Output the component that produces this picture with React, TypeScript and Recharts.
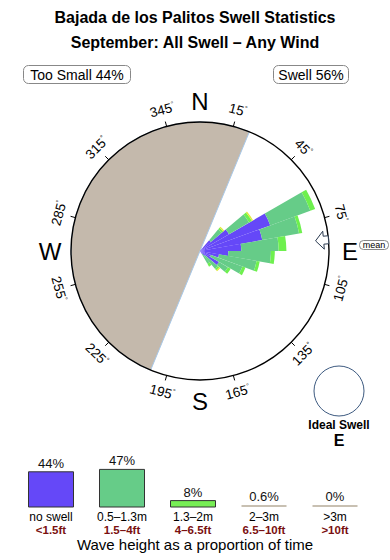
import {
  PieChart, Pie, Cell, RadialBarChart, RadialBar, PolarAngleAxis, PolarRadiusAxis,
  RadarChart, Radar, PolarGrid, BarChart, Bar, XAxis, YAxis, LabelList,
} from 'recharts'

const FONT = '"Liberation Sans", Arial, Helvetica, sans-serif'

// ── Data ──────────────────────────────────────────────────────────────────────

const TITLE = 'Bajada de los Palitos Swell Statistics'
const SUBTITLE = 'September: All Swell – Any Wind'
const TOO_SMALL_PCT = 44
const SWELL_PCT = 56

// 10° direction bins, bin i covers [i*10, i*10+10) degrees from north
const DIR_BINS = [
  0, 10, 20, 30, 40, 50, 60, 70, 80, 90, 100, 110,
  120, 130, 140, 150, 160, 170, 180, 190, 200, 210, 220, 230,
  240, 250, 260, 270, 280, 290, 300, 310, 320, 330, 340, 350,
]
const NO_SWELL = [
  0, 0, 0, 0, 1.1, 2.6, 5.8, 4.9, 3.2, 2.2, 1.5, 0.9,
  1.7, 0.5, 0.25, 0, 0, 0, 0, 0, 0, 0, 0, 0,
  0, 0, 0, 0, 0, 0, 0, 0, 0, 0, 0, 0,
]
const SWELL_SMALL = [
  0, 0, 0, 0, 1.1, 1.8, 3.3, 2.9, 2.9, 3.3, 2.95, 2.6,
  0.8, 1.3, 0.9, 0, 0, 0, 0, 0, 0, 0, 0, 0,
  0, 0, 0, 0, 0, 0, 0, 0, 0, 0, 0, 0,
]
const SWELL_MID = [
  0, 0, 0, 0, 0.15, 0.25, 0.4, 0.25, 0.6, 0.3, 0.25, 0.25,
  0.25, 0.15, 0.25, 0, 0, 0, 0, 0, 0, 0, 0, 0,
  0, 0, 0, 0, 0, 0, 0, 0, 0, 0, 0, 0,
]
const SWELL_BIG = [
  0, 0, 0, 0, 0.1, 0.1, 0, 0, 0, 0, 0, 0,
  0, 0.1, 0, 0, 0, 0, 0, 0, 0, 0, 0, 0,
  0, 0, 0, 0, 0, 0, 0, 0, 0, 0, 0, 0,
]
const ROSE_MAX = 10

// directions blocked from swell (shaded), going clockwise from -> to
const SHADOW_FROM = 202.5
const SHADOW_TO = 22.5
const MEAN_DIR = 85
const IDEAL_DIR = 'E'

const ANGLE_TICKS = [
  0, 15, 30, 45, 60, 75, 90, 105, 120, 135, 150, 165,
  180, 195, 210, 225, 240, 255, 270, 285, 300, 315, 330, 345,
]
const DEGREE_LABELS = [15, 45, 75, 105, 135, 165, 195, 225, 255, 285, 315, 345]
const CARDINALS: Record<number, string> = { 0: 'N', 90: 'E', 180: 'S', 270: 'W' }

const HEIGHT_CLASSES = ['no swell', '0.5–1.3m', '1.3–2m', '2–3m', '>3m']
const HEIGHT_FEET = ['<1.5ft', '1.5–4ft', '4–6.5ft', '6.5–10ft', '>10ft']
const HEIGHT_SHARE = [44, 47, 8, 0.6, 0]

// ── Styling ───────────────────────────────────────────────────────────────────

const C_BLUE = '#6548f8'
const C_GREEN = '#66cc88'
const C_LIME = '#6ef04e'
const C_YELLOW = '#e2e83a'
const C_SHADOW = '#c4b9ac'
const C_FLAT = '#c8c0b2'
const LEGEND_FILL = [C_BLUE, C_GREEN, '#77ee55', C_FLAT, C_FLAT]
const LEGEND_STROKE = ['#333', '#333', '#333', 'none', 'none']

const W = 390
const CX = 200
const CY = 251
const R = 129
const BIN = 10

const roseRows = DIR_BINS.map((dir, i) => ({
  dir,
  noSwell: NO_SWELL[i],
  small: SWELL_SMALL[i],
  mid: SWELL_MID[i],
  big: SWELL_BIG[i],
}))

const tickRows = ANGLE_TICKS.map(deg => ({ deg, zero: 0 }))

const legendRows = HEIGHT_CLASSES.map((cls, i) => ({
  cls, ft: HEIGHT_FEET[i], share: HEIGHT_SHARE[i],
}))

const polar = (deg: number, r: number) => {
  const a = ((90 - deg) * Math.PI) / 180
  return { x: CX + r * Math.cos(a), y: CY - r * Math.sin(a) }
}

// ── Ticks ─────────────────────────────────────────────────────────────────────

function CompassTick(props: any) {
  const deg = Number(props.payload?.value)
  if (CARDINALS[deg]) {
    const p = polar(deg, 150)
    return (
      <text x={p.x} y={p.y + 8.6} textAnchor="middle" fontSize={24} fontFamily={FONT} fill="#000">
        {CARDINALS[deg]}
      </text>
    )
  }
  if (!DEGREE_LABELS.includes(deg)) return null
  const p0 = polar(deg, R)
  const p1 = polar(deg, R + 5)
  const pl = polar(deg, R + 17)
  const rot = deg > 90 && deg < 270 ? deg - 180 : deg >= 270 ? deg - 360 : deg
  return (
    <g>
      <line x1={p0.x} y1={p0.y} x2={p1.x} y2={p1.y} stroke="#000" strokeWidth={1} />
      <text
        x={pl.x} y={pl.y} textAnchor="middle" dominantBaseline="central"
        transform={`rotate(${rot} ${pl.x} ${pl.y})`}
        fontSize={13.5} fontFamily={FONT} fill="#000"
      >
        {deg}<tspan fontSize={7} dy={-4}>°</tspan>
      </text>
    </g>
  )
}

function HeightTick(props: any) {
  const { x, y, index } = props
  return (
    <g>
      <text x={x} y={y + 6} textAnchor="middle" fontSize={12} fontFamily={FONT} fill="#000">
        {HEIGHT_CLASSES[index]}
      </text>
      <text x={x} y={y + 19} textAnchor="middle" fontSize={11.5} fontWeight="bold" fontFamily={FONT} fill="#7a1010">
        {HEIGHT_FEET[index]}
      </text>
    </g>
  )
}

// ── Component ─────────────────────────────────────────────────────────────────

export default function App() {
  const layer = { position: 'absolute' as const, left: 0, top: 0 }

  // mean direction arrow, pointing in toward the centre
  const along = (d: number, w: number) => {
    const a = ((90 - MEAN_DIR) * Math.PI) / 180
    const ux = Math.cos(a), uy = -Math.sin(a)
    const r = R - d
    return `${CX + r * ux - w * uy},${CY + r * uy + w * ux}`
  }
  const arrow = [
    along(13, 0), along(5, 9), along(5, 4), along(0, 4),
    along(0, -4), along(5, -4), along(5, -9),
  ].join(' ')

  return (
    <div style={{ position: 'absolute', left: 0, top: 0, width: W, height: 560, background: '#fff', overflow: 'hidden' }}>
      {/* blocked sector */}
      <div style={layer}>
        <PieChart width={W} height={420} margin={{ top: 0, right: 0, bottom: 0, left: 0 }}>
          <Pie
            data={[{ v: 1 }]} dataKey="v" cx={CX} cy={CY} innerRadius={0} outerRadius={R}
            startAngle={90 - SHADOW_TO} endAngle={450 - SHADOW_FROM}
            fill={C_SHADOW} stroke="#a8c8e8" strokeWidth={1} isAnimationActive={false}
          />
        </PieChart>
      </div>

      {/* swell rose: bin i spans [dir, dir + BIN] clockwise from north */}
      <div style={layer}>
        <RadialBarChart
          width={W} height={420} data={roseRows} layout="centric"
          cx={CX} cy={CY} innerRadius={0} outerRadius={R}
          startAngle={90 - BIN} endAngle={-270 - BIN} barCategoryGap={0} barGap={0}
          margin={{ top: 0, right: 0, bottom: 0, left: 0 }}
        >
          <PolarAngleAxis type="category" dataKey="dir" tick={false} tickLine={false} axisLine={false} />
          <PolarRadiusAxis type="number" domain={[0, ROSE_MAX]} tick={false} tickLine={false} axisLine={false} />
          <RadialBar dataKey="noSwell" stackId="rose" fill={C_BLUE} isAnimationActive={false} />
          <RadialBar dataKey="small" stackId="rose" fill={C_GREEN} isAnimationActive={false} />
          <RadialBar dataKey="mid" stackId="rose" fill={C_LIME} isAnimationActive={false} />
          <RadialBar dataKey="big" stackId="rose" fill={C_YELLOW} isAnimationActive={false} />
        </RadialBarChart>
      </div>

      {/* compass ring and degree ticks */}
      <div style={layer}>
        <RadarChart
          width={W} height={420} data={tickRows} cx={CX} cy={CY} outerRadius={R}
          startAngle={90} endAngle={-270} margin={{ top: 0, right: 0, bottom: 0, left: 0 }}
        >
          <PolarGrid gridType="circle" radialLines={false} polarRadius={[R]} stroke="#000" strokeWidth={1.4} fill="none" />
          <PolarAngleAxis dataKey="deg" tick={<CompassTick />} tickLine={false} axisLine={false} />
          <PolarRadiusAxis domain={[0, 1]} tick={false} axisLine={false} />
          <Radar dataKey="zero" stroke="none" fill="none" isAnimationActive={false} />
        </RadarChart>
      </div>

      {/* height legend */}
      <div style={{ position: 'absolute', left: 0, top: 445 }}>
        <BarChart width={W} height={95} data={legendRows} margin={{ top: 22, right: 19.5, left: 15.5, bottom: 0 }}>
          <XAxis dataKey="cls" axisLine={false} tickLine={false} interval={0} height={33} tick={<HeightTick />} />
          <YAxis hide domain={[0, 50]} />
          <Bar dataKey="share" barSize={45} minPointSize={2} isAnimationActive={false}>
            {legendRows.map((_, i) => (
              <Cell key={i} fill={LEGEND_FILL[i]} stroke={LEGEND_STROKE[i]} strokeWidth={1} />
            ))}
            <LabelList
              dataKey="share" position="top" offset={4}
              formatter={(v: any) => `${v}%`}
              style={{ fontSize: 13, fill: '#111', fontFamily: FONT }}
            />
          </Bar>
        </BarChart>
      </div>

      {/* titles and annotations */}
      <svg width={W} height={560} style={{ ...layer, pointerEvents: 'none' }} fontFamily={FONT}>
        <text x={195} y={23} textAnchor="middle" fontSize={16} fontWeight="bold">{TITLE}</text>
        <text x={195} y={48} textAnchor="middle" fontSize={16} fontWeight="bold">{SUBTITLE}</text>

        <rect x={23.5} y={65.5} width={107} height={18} rx={5} fill="#fff" stroke="#888" />
        <text x={77} y={79.5} textAnchor="middle" fontSize={14}>Too Small {TOO_SMALL_PCT}%</text>
        <rect x={273.5} y={65.5} width={75} height={18} rx={5} fill="#fff" stroke="#888" />
        <text x={311} y={79.5} textAnchor="middle" fontSize={14}>Swell {SWELL_PCT}%</text>

        <polygon points={arrow} fill="#fff" stroke="#2a3a50" strokeWidth={1} />
        <rect x={359.5} y={240.5} width={29} height={9} rx={4} fill="#fff" stroke="#888" />
        <text x={374} y={247.8} textAnchor="middle" fontSize={9}>mean</text>

        <circle cx={339} cy={391} r={25} fill="none" stroke="#3d5a80" strokeWidth={1} />
        <text x={339} y={429} textAnchor="middle" fontSize={12} fontWeight="bold">Ideal Swell</text>
        <text x={339} y={446} textAnchor="middle" fontSize={16} fontWeight="bold">{IDEAL_DIR}</text>

        <text x={195} y={550} textAnchor="middle" fontSize={15}>Wave height as a proportion of time</text>
      </svg>
    </div>
  )
}
